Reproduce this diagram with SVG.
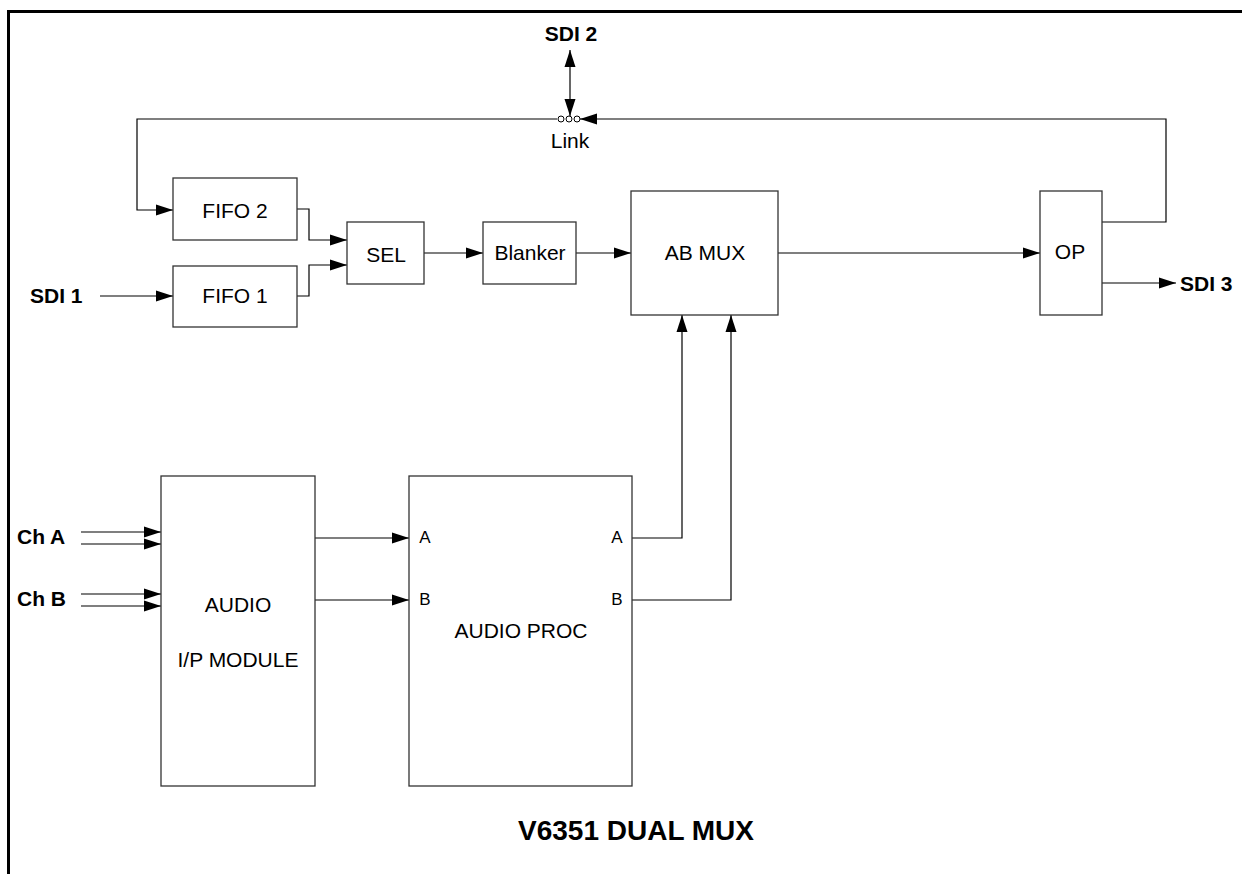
<svg xmlns="http://www.w3.org/2000/svg" width="1242" height="874" viewBox="0 0 1242 874">
<style>
.box{fill:#fff;stroke:#333;stroke-width:1.3}
.ln{fill:none;stroke:#000;stroke-width:1.2}
.t{font-family:"Liberation Sans",Arial,sans-serif;font-size:21px;fill:#000;text-anchor:middle}
.s{font-family:"Liberation Sans",Arial,sans-serif;font-size:17px;fill:#000;text-anchor:middle}
.b{font-family:"Liberation Sans",Arial,sans-serif;font-size:21px;font-weight:bold;fill:#000}
</style>
<defs>
<marker id="ar" markerUnits="userSpaceOnUse" markerWidth="18" markerHeight="12" refX="17" refY="6" orient="auto">
<path d="M0,0.5 L17,6 L0,11.5 Z" fill="#000"/>
</marker>
<marker id="ars" markerUnits="userSpaceOnUse" markerWidth="18" markerHeight="12" refX="1" refY="6" orient="auto">
<path d="M18,0.5 L1,6 L18,11.5 Z" fill="#000"/>
</marker>
</defs>
<rect x="0" y="0" width="1242" height="874" fill="#fff"/>
<path d="M8.5,874 V11.5 H1242" fill="none" stroke="#000" stroke-width="3"/>

<g id="connectors">
<path class="ln" d="M100,296 H173" marker-end="url(#ar)"/>
<path class="ln" d="M297,209 H309 V240 H347" marker-end="url(#ar)"/>
<path class="ln" d="M297,296 H309 V265 H347" marker-end="url(#ar)"/>
<path class="ln" d="M424,253 H483" marker-end="url(#ar)"/>
<path class="ln" d="M576,253 H631" marker-end="url(#ar)"/>
<path class="ln" d="M778,253 H1040" marker-end="url(#ar)"/>
<path class="ln" d="M1102,283 H1176" marker-end="url(#ar)"/>
<path class="ln" d="M1102,222 H1166 V119 H580" marker-end="url(#ar)"/>
<path class="ln" d="M557,119 H137 V210 H173" marker-end="url(#ar)"/>
<path class="ln" d="M570,50 V116" marker-start="url(#ars)" marker-end="url(#ar)"/>
<path class="ln" d="M81,532 H161" marker-end="url(#ar)"/>
<path class="ln" d="M81,544 H161" marker-end="url(#ar)"/>
<path class="ln" d="M81,594 H161" marker-end="url(#ar)"/>
<path class="ln" d="M81,606 H161" marker-end="url(#ar)"/>
<path class="ln" d="M315,538 H409" marker-end="url(#ar)"/>
<path class="ln" d="M315,600 H409" marker-end="url(#ar)"/>
<path class="ln" d="M632,538 H682 V315" marker-end="url(#ar)"/>
<path class="ln" d="M632,600 H731 V315" marker-end="url(#ar)"/>
</g>

<g id="link">
<circle cx="561" cy="119" r="3" fill="#fff" stroke="#000" stroke-width="1"/>
<circle cx="569" cy="119" r="3" fill="#fff" stroke="#000" stroke-width="1"/>
<circle cx="577" cy="119" r="3" fill="#fff" stroke="#000" stroke-width="1"/>
<text class="t" x="570" y="148">Link</text>
</g>
<g id="sdi2"><text class="b" x="571" y="41" text-anchor="middle">SDI 2</text></g>
<g id="sdi1"><text class="b" x="30" y="303">SDI 1</text></g>
<g id="sdi3"><text class="b" x="1180" y="291">SDI 3</text></g>
<g id="cha"><text class="b" x="17" y="544">Ch A</text></g>
<g id="chb"><text class="b" x="17" y="606">Ch B</text></g>

<g id="fifo2"><rect class="box" x="173" y="178" width="124" height="62"/><text class="t" x="235" y="218">FIFO 2</text></g>
<g id="fifo1"><rect class="box" x="173" y="266" width="124" height="61"/><text class="t" x="235" y="303">FIFO 1</text></g>
<g id="sel"><rect class="box" x="347" y="222" width="77" height="62"/><text class="t" x="386" y="262">SEL</text></g>
<g id="blanker"><rect class="box" x="483" y="222" width="93" height="62"/><text class="t" x="530" y="260">Blanker</text></g>
<g id="abmux"><rect class="box" x="631" y="191" width="147" height="124"/><text class="t" x="705" y="260">AB MUX</text></g>
<g id="op"><rect class="box" x="1040" y="191" width="62" height="124"/><text class="t" x="1070" y="259">OP</text></g>
<g id="audioip"><rect class="box" x="161" y="476" width="154" height="310"/><text class="t" x="238" y="612">AUDIO</text><text class="t" x="238" y="667">I/P MODULE</text></g>
<g id="audioproc"><rect class="box" x="409" y="476" width="223" height="310"/>
<text class="s" x="425" y="543">A</text><text class="s" x="425" y="605">B</text>
<text class="s" x="617" y="543">A</text><text class="s" x="617" y="605">B</text>
<text class="t" x="521" y="638">AUDIO PROC</text></g>
<g id="title"><text class="b" x="636" y="840" text-anchor="middle" style="font-size:28px">V6351 DUAL MUX</text></g>
</svg>
